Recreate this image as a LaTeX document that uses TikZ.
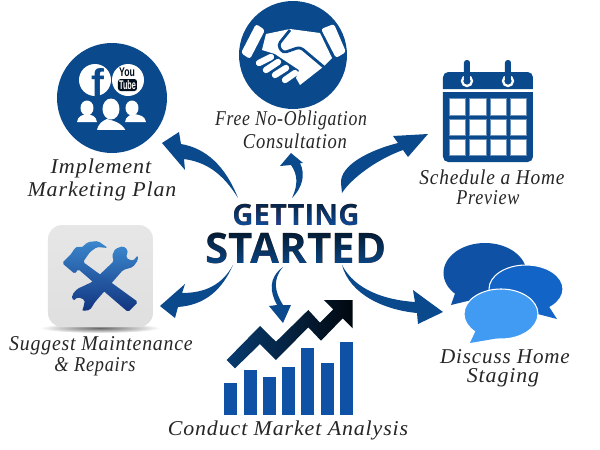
\documentclass[tikz,border=0pt]{standalone}
\usepackage{fontspec}
\newfontfamily\titlefont{Open Sans}
\newfontfamily\handfont[LetterSpace=4]{Liberation Serif}
\newfontfamily\logofont{Liberation Sans}
\definecolor{iconblue}{HTML}{0A4A8C}
\definecolor{barblue}{HTML}{0F52A5}
\definecolor{midbubble}{HTML}{1264C6}
\definecolor{lightbubble}{HTML}{419BF3}
\definecolor{tooltop}{HTML}{3A86CC}
\definecolor{toolbottom}{HTML}{12347F}
\pgfdeclareverticalshading{tilebox}{100bp}{color(0bp)=(black!55); color(6bp)=(black!30); color(18bp)=(black!13); color(85bp)=(black!9); color(100bp)=(black!20)}
\tikzset{
  swoosh/.style={fill=iconblue},
  hand/.style={font=\handfont\itshape\fontsize{12}{14}\selectfont,text=black!85,inner sep=0pt},
  logo/.style={font=\logofont\bfseries,inner sep=0pt},
  person/.style={fill=white,draw=iconblue,line width=.9pt},
  tool/.style={top color=tooltop,bottom color=toolbottom,rounded corners=1pt}
}
\begin{document}
\begin{tikzpicture}[x=0.02cm,y=-0.02cm]
  \useasboundingbox (0,0) rectangle (600,450);
  \fill[white] (0,0) rectangle (600,450);
  % centre
  \node [font=\titlefont\bfseries\fontsize{16.7}{20}\selectfont,inner sep=0pt] (getting) at (296,215) {GETTING};
  \node [font=\titlefont\bfseries\fontsize{24}{28}\selectfont,inner sep=0pt] (started) at (296,248) {STARTED};
  \shade[blend mode=lighten,top color=black!60!iconblue,bottom color=barblue] (228,200) rectangle (364,229);
  \shade[blend mode=lighten,top color=black!70!iconblue,bottom color=iconblue] (200,229) rectangle (392,267);
  % marketing
  \fill[iconblue] (112,98) circle (55);
  \fill[white] (95,80) circle (16) (128,80) circle (16);
  \node [logo,text=iconblue,font=\logofont\bfseries\fontsize{22}{24}\selectfont] (fb) at (98,82) {f};
  \node [logo,text=black!80!iconblue,font=\logofont\bfseries\fontsize{5.5}{6}\selectfont] (you) at (127,72) {\scalebox{.9}[1.3]{You}};
  \fill[black!80!iconblue,rounded corners=1.5pt] (118,79) rectangle (137,91);
  \node [logo,text=white,font=\logofont\bfseries\fontsize{5.5}{6}\selectfont] (tube) at (127.5,85.5) {\scalebox{.75}[1.3]{Tube}};
  \fill[white] (87,108) ellipse (6.5 and 7.5) (132,108) ellipse (6.5 and 7.5);
  \fill[white] (77,122) .. controls (78,116) and (82,115) .. (87,114) .. controls (92,115) and (96,116) .. (97,122) -- cycle;
  \fill[white] (125,122) .. controls (126,116) and (130,115) .. (134,114) .. controls (140,115) and (145,116) .. (146,122) -- cycle;
  \path[person] (96,131) .. controls (97,123) and (102,120) .. (107,118) .. controls (113,120) and (122,121) .. (127,131) -- cycle;
  \fill[white,draw=none] (111,109) ellipse (8.5 and 10.5);
  \node [hand] (implement) at (101,168) {\scalebox{1.05}[1]{Implement}};
  \node [hand] (marketing) at (102,191) {\scalebox{1.04}[1]{Marketing Plan}};
  % consultation
  \fill[iconblue] (293,55) circle (54);
  \fill[white,rounded corners=1.5pt] (256,24) -- (265,30) -- (250,59) -- (241,53) -- cycle;
  \fill[white,rounded corners=1.5pt] (321,29) -- (334,24) -- (346,52) -- (336,58) -- cycle;
  \fill[white] (266,34) -- (290,29) -- (320,33) -- (332,58) -- (323,67) -- (300,85) -- (296,78) -- (299,70) -- (275,54) -- (262,50) -- cycle;
  \draw[iconblue,line width=1.6pt,rounded corners=2pt] (290,30) -- (278,45) -- (283,53) -- (300,47) -- (325,68);
  \foreach \a/\b/\c/\d in {259/63/271/57,266/70/278/62,275/75/286/68,285/80/295/73}
    \draw[white,line width=3.6pt,line cap=round] (\a,\b) -- (\c,\d);
  \node [hand] (free) at (291,120) {\scalebox{.84}[1]{Free No-Obligation}};
  \node [hand] (consult) at (295,141) {\scalebox{.88}[1]{Consultation}};
  % calendar
  \fill[iconblue] (443,89) [rounded corners=3pt] -- (443,72) -- (533,72) [sharp corners] -- (533,89) -- cycle;
  \fill[iconblue] (443,92) [sharp corners] -- (533,92) [rounded corners=3pt] -- (533,162) -- (443,162) [sharp corners] -- cycle;
  \foreach \x in {467,508} {
    \draw[white,line width=1.3pt] (\x,81) circle (5);
    \fill[iconblue,rounded corners=1.5pt] (\x-3,60) rectangle (\x+3,82);
  }
  \foreach \x in {449.3,469.7,490,510.3}
    \foreach \y in {98.7,119,139.3}
      \fill[white,draw=iconblue!60,line width=.3pt] (\x,\y) rectangle (\x+16.4,\y+16.4);
  \node [hand] (schedule) at (492,177) {\scalebox{.92}[1]{Schedule a Home}};
  \node [hand] (preview) at (488,198) {\scalebox{.86}[1]{Preview}};
  % tools
  \shade[inner color=black!60,outer color=white] (100,328) ellipse (60 and 5);
  \shade[rounded corners=8pt,shading=tilebox] (48,225) rectangle (153,327);
  \shade[tool]
    (123,246) -- (115,249) -- (112,256) -- (114,261) -- (92,282) -- (77,289) -- (72,295) -- (73,301) -- (78,297) -- (85,300) -- (83,309) -- (82,311) -- (90,310) -- (95,302) -- (123,270) -- (133,267) -- (138,260) -- (138,255) -- (133,261) -- (126,258) -- (128,250) -- cycle;
  \shade[tool]
    (62,263) -- (72,253) -- (74,249) -- (78,246) -- (81,248) -- (88,242) -- (98,241) -- (108,248) -- (97,247) -- (90,252) -- (83,262) -- (138,302) -- (128,312) -- (78,269) -- (75,274) -- cycle;
  \node [hand] (suggest) at (101,346) {\scalebox{.94}[1]{Suggest Maintenance}};
  \node [hand] (repairs) at (95,367) {\scalebox{.87}[1]{\& Repairs}};
  % chart
  \foreach \x/\t in {224.3/382.7,243.7/370,263/376.7,282/366.7,301.3/347.7,320.7/363.3,340/341.7}
    \fill[barblue] (\x,\t) rectangle (\x+13,415);
  \shade[left color=black!20!iconblue,right color=black!90!iconblue]
    (226.7,360) -- (260,326) -- (276,341.7) -- (308.3,310) -- (320,322.7) -- (333.3,309.3) -- (324,300) -- (352.7,300) -- (352.7,328.3) -- (342.7,318.3) -- (321,340.7) -- (308.3,327.3) -- (276,360) -- (260,344) -- (235,368.3) -- cycle;
  \node [hand] (conduct) at (288,430) {\scalebox{1.04}[1]{Conduct Market Analysis}};
  % bubbles
  \fill[barblue] (485,273) ellipse (41.5 and 30);
  \fill[barblue] (458,285) -- (451,305) -- (480,298) -- cycle;
  \fill[midbubble,draw=white,line width=.6pt] (526,289) ellipse (37 and 24);
  \fill[midbubble] (548,305) -- (557,319) -- (530,312) -- cycle;
  \fill[lightbubble,draw=white,line width=.6pt] (501,314) ellipse (37 and 25);
  \fill[lightbubble] (476,330) -- (470,343) -- (505,337) -- cycle;
  \node [hand] (discuss) at (505,357) {Discuss Home};
  \node [hand] (staging) at (503,378) {\scalebox{1.04}[1]{Staging}};
  % arrows
  \coordinate (tailplan) at (238,198);
  \coordinate (tipplan) at (162,143);
  \coordinate (tailfree) at (292,198);
  \coordinate (tipfree) at (291,153);
  \coordinate (tailhome) at (342,193);
  \coordinate (tiphome) at (428,134);
  \coordinate (tailfix) at (233,265);
  \coordinate (tipfix) at (160,306);
  \coordinate (tailmarket) at (283,267);
  \coordinate (tipmarket) at (283,323);
  \coordinate (tailstage) at (342,265);
  \coordinate (tipstage) at (443,312);
  \fill[swoosh] (tailplan) .. controls (222,172) and (205,162) .. (184,159) -- (185,170) -- (tipplan) -- (179,132) -- (181,144) .. controls (205,148) and (225,165) .. (tailplan);
  \fill[swoosh] (tailfree) .. controls (298,185) and (298,175) .. (291,165) -- (280,166) -- (tipfree) -- (303,163) -- (300,163) .. controls (306,175) and (302,188) .. (tailfree);
  \fill[swoosh] (tailhome) .. controls (350,180) and (375,160) .. (403,150) -- (408,157) -- (tiphome) -- (393,136) -- (398,143) .. controls (370,150) and (340,165) .. (341,183) -- cycle;
  \fill[swoosh] (tailfix) .. controls (222,285) and (205,293) .. (182,293) -- (185,284) -- (tipfix) -- (175,318) -- (178,307) .. controls (205,305) and (222,290) .. (tailfix);
  \fill[swoosh] (tailmarket) .. controls (268,278) and (270,292) .. (277,305) -- (269,306) -- (tipmarket) -- (291,305) -- (283,305) .. controls (275,292) and (272,280) .. (tailmarket);
  \fill[swoosh] (tailstage) .. controls (350,295) and (385,310) .. (417,313) -- (418,324) -- (tipstage) -- (413,290) -- (415,302) .. controls (385,300) and (355,290) .. (tailstage);
\end{tikzpicture}
\end{document}
